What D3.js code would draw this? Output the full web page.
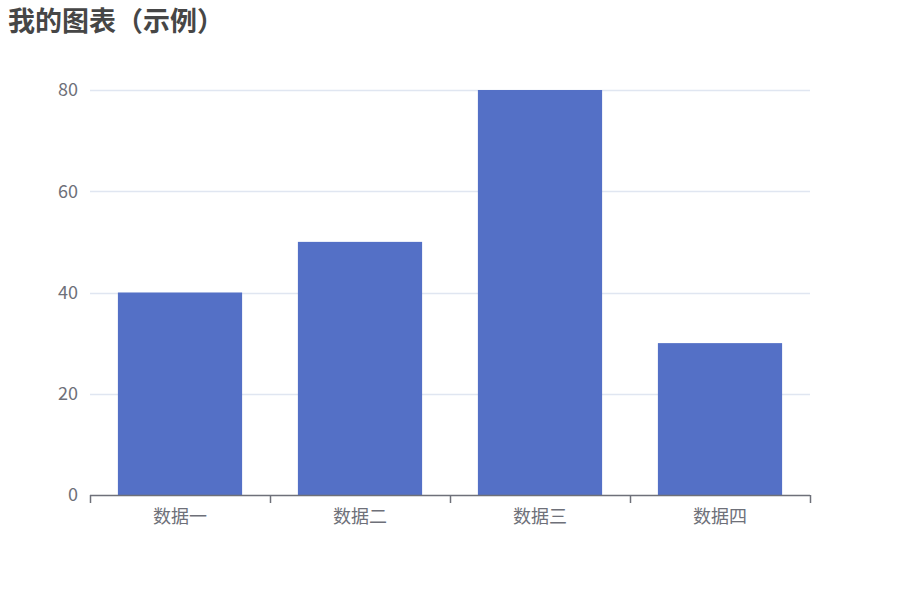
<!DOCTYPE html>
<html><head><meta charset="utf-8">
<script src="https://cdn.jsdelivr.net/npm/d3@7/dist/d3.min.js"></script>
<style>body{margin:0;background:#fff}svg{display:block}text{font-family:"Noto Sans CJK SC","Microsoft YaHei",sans-serif}</style>
</head><body>
<svg id="c" width="900" height="600"></svg>
<script>
const titleText = "我的图表（示例）";
const categories = ["数据一","数据二","数据三","数据四"];
const values = [40, 50, 80, 30];
const yTicks = [0, 20, 40, 60, 80];

(function () {
const svg = d3.select("#c");
const mL = 90, mR = 810, mT = 90, mB = 495;

svg.append("text").attr("x", 8).attr("y", 31).text(titleText)
  .attr("font-size", 27).attr("font-weight", "bold").attr("fill", "#464646");

const x = d3.scaleBand().domain(categories).range([mL, mR]);
const y = d3.scaleLinear().domain([0, 80]).range([mB, mT]);

svg.append("g").selectAll("line").data(yTicks.filter(d => d > 0)).join("line")
  .attr("x1", mL).attr("x2", mR)
  .attr("y1", d => Math.round(y(d)) + 0.5).attr("y2", d => Math.round(y(d)) + 0.5)
  .attr("stroke", "#E0E6F1").attr("stroke-width", 1.5);

svg.append("g").selectAll("text").data(yTicks).join("text")
  .attr("x", 78).attr("y", d => y(d)).attr("dy", "0.35em")
  .attr("text-anchor", "end").attr("font-size", 18).attr("fill", "#6E7079")
  .text(d => d);

const bw = x.bandwidth() * 0.69;
svg.append("g").selectAll("rect").data(values).join("rect")
  .attr("x", (d, i) => x(categories[i]) + (x.bandwidth() - bw) / 2)
  .attr("width", bw)
  .attr("y", d => y(d)).attr("height", d => y(0) - y(d))
  .attr("fill", "#5470C6");

const gx = svg.append("g").attr("transform", `translate(0,${mB})`);
gx.append("line").attr("x1", mL).attr("x2", mR).attr("y1", 0.5).attr("y2", 0.5)
  .attr("stroke", "#6E7079").attr("stroke-width", 1.5);
const bounds = categories.map(c => x(c)).concat([mR]);
gx.selectAll("line.tick").data(bounds).join("line").attr("class", "tick")
  .attr("x1", d => Math.round(d) + 0.5).attr("x2", d => Math.round(d) + 0.5)
  .attr("y1", 0).attr("y2", 8).attr("stroke", "#6E7079").attr("stroke-width", 1.5);
gx.selectAll("text.lab").data(categories).join("text").attr("class", "lab")
  .attr("x", d => x(d) + x.bandwidth() / 2).attr("y", 28)
  .attr("text-anchor", "middle").attr("font-size", 18).attr("fill", "#6E7079")
  .text(d => d);
})();
</script>
</body></html>
